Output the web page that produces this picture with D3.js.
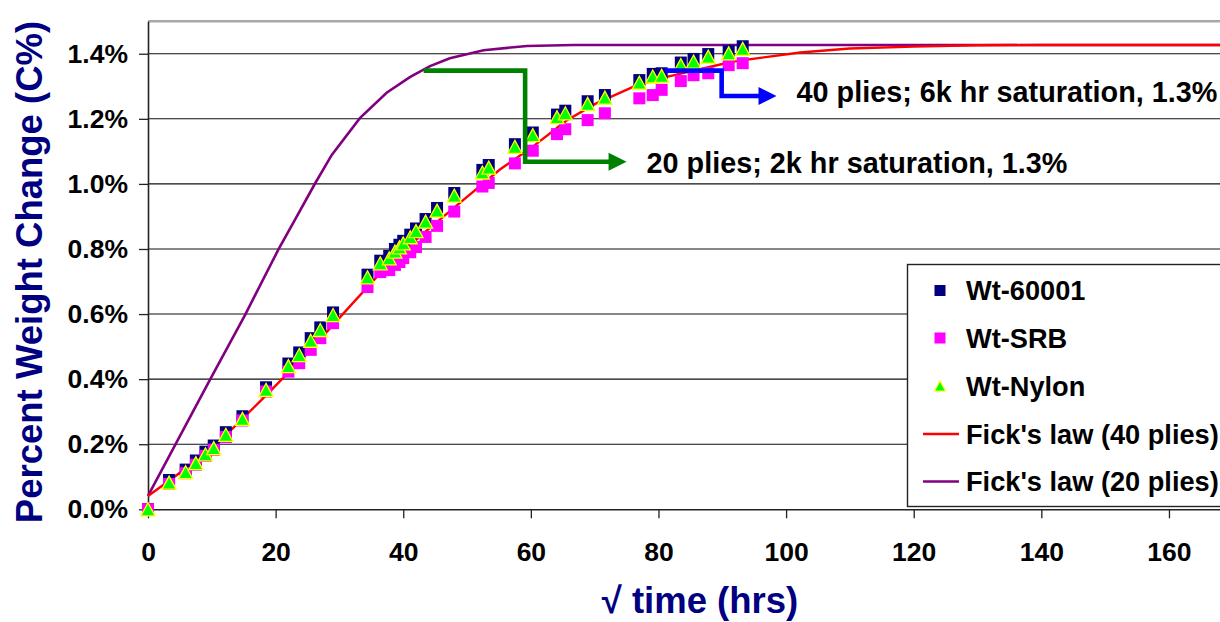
<!DOCTYPE html>
<html>
<head>
<meta charset="utf-8">
<script src="https://cdn.jsdelivr.net/npm/d3@7"></script>
<style>
  html, body { margin: 0; padding: 0; background: #fff; }
  svg { display: block; font-family: "Liberation Sans", Arial, sans-serif; font-weight: bold; }
</style>
</head>
<body>
<svg id="chart" width="1220" height="622"></svg>
<script>
// ---- data (sqrt hours, percent weight change) ----
const sqrtTime = [0, 3.3, 5.9, 7.5, 9.0, 10.3, 12.2, 14.8, 18.5, 22.0, 23.7, 25.5, 27.0, 29.0,
  34.4, 36.4, 37.8, 38.7, 39.4, 40.0, 41.1, 42.0, 43.5, 45.3, 48.0, 52.4, 53.4,
  57.5, 60.3, 64.1, 65.4, 68.9, 71.6, 77.0, 79.1, 80.5, 83.5, 85.5, 87.8, 91.0, 93.2];
const wt60001 = [0, 0.090, 0.122, 0.150, 0.177, 0.196, 0.237, 0.286, 0.375, 0.448, 0.482, 0.526, 0.559, 0.605,
  0.721, 0.764, 0.779, 0.800, 0.813, 0.825, 0.844, 0.863, 0.892, 0.926, 0.972, 1.043, 1.058,
  1.122, 1.158, 1.213, 1.225, 1.254, 1.273, 1.319, 1.338, 1.340, 1.373, 1.384, 1.399, 1.409, 1.423];
const wtSRB = [0, 0.078, 0.111, 0.137, 0.164, 0.183, 0.222, 0.273, 0.362, 0.423, 0.449, 0.490, 0.526, 0.572,
  0.683, 0.729, 0.735, 0.751, 0.760, 0.772, 0.790, 0.806, 0.837, 0.871, 0.915, 0.992, 1.003,
  1.063, 1.102, 1.153, 1.168, 1.196, 1.217, 1.263, 1.273, 1.289, 1.316, 1.334, 1.340, 1.365, 1.371];
const wtNylon = [0, 0.082, 0.114, 0.142, 0.169, 0.188, 0.229, 0.278, 0.367, 0.440, 0.474, 0.518, 0.551, 0.597,
  0.713, 0.756, 0.771, 0.792, 0.805, 0.817, 0.836, 0.855, 0.884, 0.918, 0.964, 1.035, 1.050,
  1.114, 1.150, 1.205, 1.217, 1.246, 1.265, 1.311, 1.330, 1.332, 1.365, 1.376, 1.391, 1.401, 1.415];

const fick40T = [0, 3.3, 10, 18.5, 25, 31.7, 38, 43.9, 50, 55.2, 60, 65.6, 70, 76.1, 81.3, 91.7, 102.2, 110, 120, 130, 140, 168];
const fick40V = [0.041, 0.088, 0.185, 0.350, 0.480, 0.625, 0.760, 0.860, 0.960, 1.045, 1.110, 1.195, 1.245, 1.299, 1.329, 1.376, 1.404, 1.416, 1.422, 1.426, 1.427, 1.427];
const fick20T = [0, 9.7, 15.2, 20.4, 23.0, 26.2, 28.8, 33.2, 37.4, 41.1, 44.2, 47.3, 52.6, 59.4, 66.7, 80, 168];
const fick20V = [0.041, 0.398, 0.597, 0.797, 0.889, 1.002, 1.089, 1.202, 1.280, 1.329, 1.362, 1.386, 1.411, 1.424, 1.427, 1.427, 1.427];

const xTicks = [0, 20, 40, 60, 80, 100, 120, 140, 160];
const yTicks = [0, 0.2, 0.4, 0.6, 0.8, 1.0, 1.2, 1.4];
const gridValues = [0.2, 0.4, 0.6, 0.8, 1.0, 1.2, 1.4];

// annotation arrows (in data coordinates)
const greenArrow = [[43.2, 1.348], [59.1, 1.348], [59.1, 1.068], [75.0, 1.068]];
const blueArrow = [[81.0, 1.348], [89.9, 1.348], [89.9, 1.270], [98.5, 1.270]];
const greenLabel = "20 plies; 2k hr saturation, 1.3%";
const blueLabel = "40 plies; 6k hr saturation, 1.3%";

const legendItems = ["Wt-60001", "Wt-SRB", "Wt-Nylon", "Fick's law (40 plies)", "Fick's law (20 plies)"];

// ---- drawing ----
const svg = d3.select("#chart");
const x = d3.scaleLinear().domain([0, 180]).range([148, 148 + 180 * 6.381]);
const y = d3.scaleLinear().domain([0, 1.5]).range([509.3, 21.2]);
const xMax = 1230;

// gridlines
svg.append("g").selectAll("line").data(gridValues).join("line")
  .attr("x1", x(0)).attr("x2", xMax)
  .attr("y1", d => y(d)).attr("y2", d => y(d))
  .attr("stroke", "#111").attr("stroke-width", 1.1);
// top border of plot area
svg.append("line").attr("x1", x(0)).attr("x2", xMax)
  .attr("y1", y(1.5)).attr("y2", y(1.5))
  .attr("stroke", "#a8a8a8").attr("stroke-width", 2.5);

// axes
const yAxis = d3.axisLeft(y).tickValues(yTicks).tickSize(9).tickSizeOuter(0).tickPadding(11)
  .tickFormat(d => d.toFixed(1) + "%");
const gy = svg.append("g").attr("transform", `translate(${x(0)},0)`).call(yAxis);
const xAxis = d3.axisBottom(x).tickValues(xTicks).tickSize(9).tickSizeOuter(0).tickPadding(24)
  .tickFormat(d3.format("d"));
const gx = svg.append("g").attr("transform", `translate(0,${y(0)})`).call(xAxis);
[gx, gy].forEach(g => {
  g.select(".domain").attr("stroke", "#222").attr("stroke-width", 1.6);
  g.selectAll(".tick line").attr("stroke", "#222").attr("stroke-width", 1.3);
  g.selectAll(".tick text").attr("fill", "#000")
    .style("font-family", '"Liberation Sans", Arial, sans-serif')
    .style("font-weight", "bold").style("font-size", "26.5px");
});

// Fick's law curves
const line = d3.line().x(d => x(d[0])).y(d => y(d[1]));
svg.append("path").datum(fick20T.map((t, i) => [t, fick20V[i]]))
  .attr("d", line).attr("fill", "none").attr("stroke", "#800080").attr("stroke-width", 2.6);
svg.append("path").datum(fick40T.map((t, i) => [t, fick40V[i]]))
  .attr("d", line).attr("fill", "none").attr("stroke", "#ff0000").attr("stroke-width", 2.4);

// markers
const sq = 12;
svg.append("g").selectAll("rect").data(sqrtTime.map((t, i) => [t, wt60001[i]])).join("rect")
  .attr("x", d => x(d[0]) - sq / 2).attr("y", d => y(d[1]) - sq / 2)
  .attr("width", sq).attr("height", sq).attr("fill", "#000080");
svg.append("g").selectAll("rect").data(sqrtTime.map((t, i) => [t, wtSRB[i]])).join("rect")
  .attr("x", d => x(d[0]) - sq / 2).attr("y", d => y(d[1]) - sq / 2)
  .attr("width", sq).attr("height", sq).attr("fill", "#ff00ff");
const tri = (cx, cy, w, h) => `M${cx},${cy - h / 2}L${cx + w / 2},${cy + h / 2}L${cx - w / 2},${cy + h / 2}Z`;
svg.append("g").selectAll("path").data(sqrtTime.map((t, i) => [t, wtNylon[i]])).join("path")
  .attr("d", d => tri(x(d[0]), y(d[1]), 14, 13))
  .attr("fill", "#00ff00").attr("stroke", "#ffff00").attr("stroke-width", 1.3);

// annotation arrows
function arrow(pts, color, label, textDy) {
  const p = pts.map(d => [x(d[0]), y(d[1])]);
  const tip = p[p.length - 1];
  const head = 18, half = 9;
  const body = p.slice(0, -1).concat([[tip[0] - head + 1, tip[1]]]);
  svg.append("path").attr("d", d3.line()(body)).attr("fill", "none")
    .attr("stroke", color).attr("stroke-width", 4.6).attr("stroke-linejoin", "miter");
  svg.append("path")
    .attr("d", `M${tip[0]},${tip[1]}L${tip[0] - head},${tip[1] - half}L${tip[0] - head},${tip[1] + half}Z`)
    .attr("fill", color);
  svg.append("text").attr("x", tip[0] + 20).attr("y", tip[1] + textDy).attr("dy", "0.36em")
    .attr("font-size", "28.8px").attr("fill", "#000").text(label);
}
arrow(greenArrow, "#008000", greenLabel, 1);
arrow(blueArrow, "#0000ff", blueLabel, -4);

// legend
const lg = svg.append("g");
lg.append("rect").attr("x", 907.5).attr("y", 264.5).attr("width", 400).attr("height", 242)
  .attr("fill", "#fff").attr("stroke", "#222").attr("stroke-width", 1.4);
const rowY = [290.5, 338, 386, 434, 481.5];
const mx = 940;
lg.append("rect").attr("x", mx - 5.5).attr("y", rowY[0] - 5.5).attr("width", 11).attr("height", 11).attr("fill", "#000080");
lg.append("rect").attr("x", mx - 5.5).attr("y", rowY[1] - 5.5).attr("width", 11).attr("height", 11).attr("fill", "#ff00ff");
lg.append("path").attr("d", tri(mx, rowY[2], 11, 10)).attr("fill", "#00ff00").attr("stroke", "#ffff00").attr("stroke-width", 1.2);
lg.append("line").attr("x1", 923).attr("x2", 959).attr("y1", rowY[3]).attr("y2", rowY[3]).attr("stroke", "#ff0000").attr("stroke-width", 2.4);
lg.append("line").attr("x1", 923).attr("x2", 959).attr("y1", rowY[4]).attr("y2", rowY[4]).attr("stroke", "#800080").attr("stroke-width", 2.6);
lg.selectAll("text").data(legendItems).join("text")
  .attr("x", 966).attr("y", (d, i) => rowY[i]).attr("dy", "0.36em")
  .attr("font-size", "27.2px").attr("fill", "#000").text(d => d);

// axis titles
svg.append("text").attr("transform", "translate(42,272) rotate(-90)")
  .attr("text-anchor", "middle").attr("font-size", "36.5px").attr("fill", "#000080")
  .text("Percent Weight Change (C%)");
svg.append("text").attr("x", 700).attr("y", 613)
  .attr("text-anchor", "middle").attr("font-size", "36.5px").attr("fill", "#000080")
  .text("\u221A time (hrs)");
</script>
</body>
</html>
